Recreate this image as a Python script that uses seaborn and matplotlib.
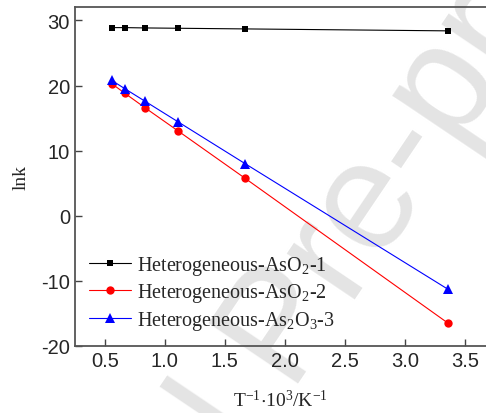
import pandas as pd
import matplotlib
matplotlib.use("Agg")
import matplotlib.pyplot as plt
import seaborn as sns

# 1/T * 10^3 (K^-1)
inv_t = [0.556, 0.667, 0.833, 1.111, 1.667, 3.356]

lnk_1 = [28.9, 28.9, 28.85, 28.8, 28.7, 28.4]
lnk_2 = [20.3, 18.8, 16.6, 13.0, 5.75, -16.5]
lnk_3 = [20.8, 19.5, 17.6, 14.4, 8.0, -11.3]

series_names = [
    "Heterogeneous-AsO$_2$-1",
    "Heterogeneous-AsO$_2$-2",
    "Heterogeneous-As$_2$O$_3$-3",
]

sns.set_style("ticks")
plt.rcParams["font.family"] = ["Liberation Serif", "DejaVu Serif"]
plt.rcParams["mathtext.default"] = "regular"
plt.rcParams["axes.unicode_minus"] = False

fig = plt.figure(figsize=(4.86, 4.14), dpi=100)
ax = fig.add_axes([0.154, 0.1626, 0.846, 0.817])
ax.patch.set_alpha(0)

# watermark
fig.text(0.585, 0.2, "Journal Pre-proof", fontsize=112, color="#e4e4e4",
         family="Liberation Sans", rotation=56, ha="center", va="center",
         rotation_mode="anchor", zorder=-5)

styles = [("black", "s", 5), ("red", "o", 6), ("blue", "^", 7)]
for vals, name, (c, m, ms) in zip([lnk_1, lnk_2, lnk_3], series_names, styles):
    df = pd.DataFrame({"x": inv_t, "y": vals})
    sns.lineplot(data=df, x="x", y="y", ax=ax, color=c, marker=m,
                 markersize=ms, markeredgewidth=0, linewidth=0.8, label=name)

ax.set_xlim(0.25, 3.675)
ax.set_ylim(-20, 32)
ax.set_xticks([0.5, 1.0, 1.5, 2.0, 2.5, 3.0, 3.5])
ax.set_yticks([-20, -10, 0, 10, 20, 30])
ax.tick_params(direction="in", length=5, width=1, color="#444444",
               labelsize=14.5)
for lab in ax.get_xticklabels() + ax.get_yticklabels():
    lab.set_family("Liberation Sans")

for side in ["left", "bottom", "top"]:
    ax.spines[side].set_color("#555555")
    ax.spines[side].set_linewidth(1.3)
ax.spines["right"].set_visible(False)

ax.set_xlabel("T$^{-1}$$\\cdot$10$^{3}$/K$^{-1}$", fontsize=14, labelpad=14)
ax.set_ylabel("lnk", fontsize=14, labelpad=8)

ax.legend(loc="lower left", bbox_to_anchor=(0.0, 0.0), frameon=False,
          fontsize=14.5, handlelength=2.1, handletextpad=0.3, labelspacing=0.22,
          borderaxespad=0.3)

fig.savefig("out.png", dpi=100)
